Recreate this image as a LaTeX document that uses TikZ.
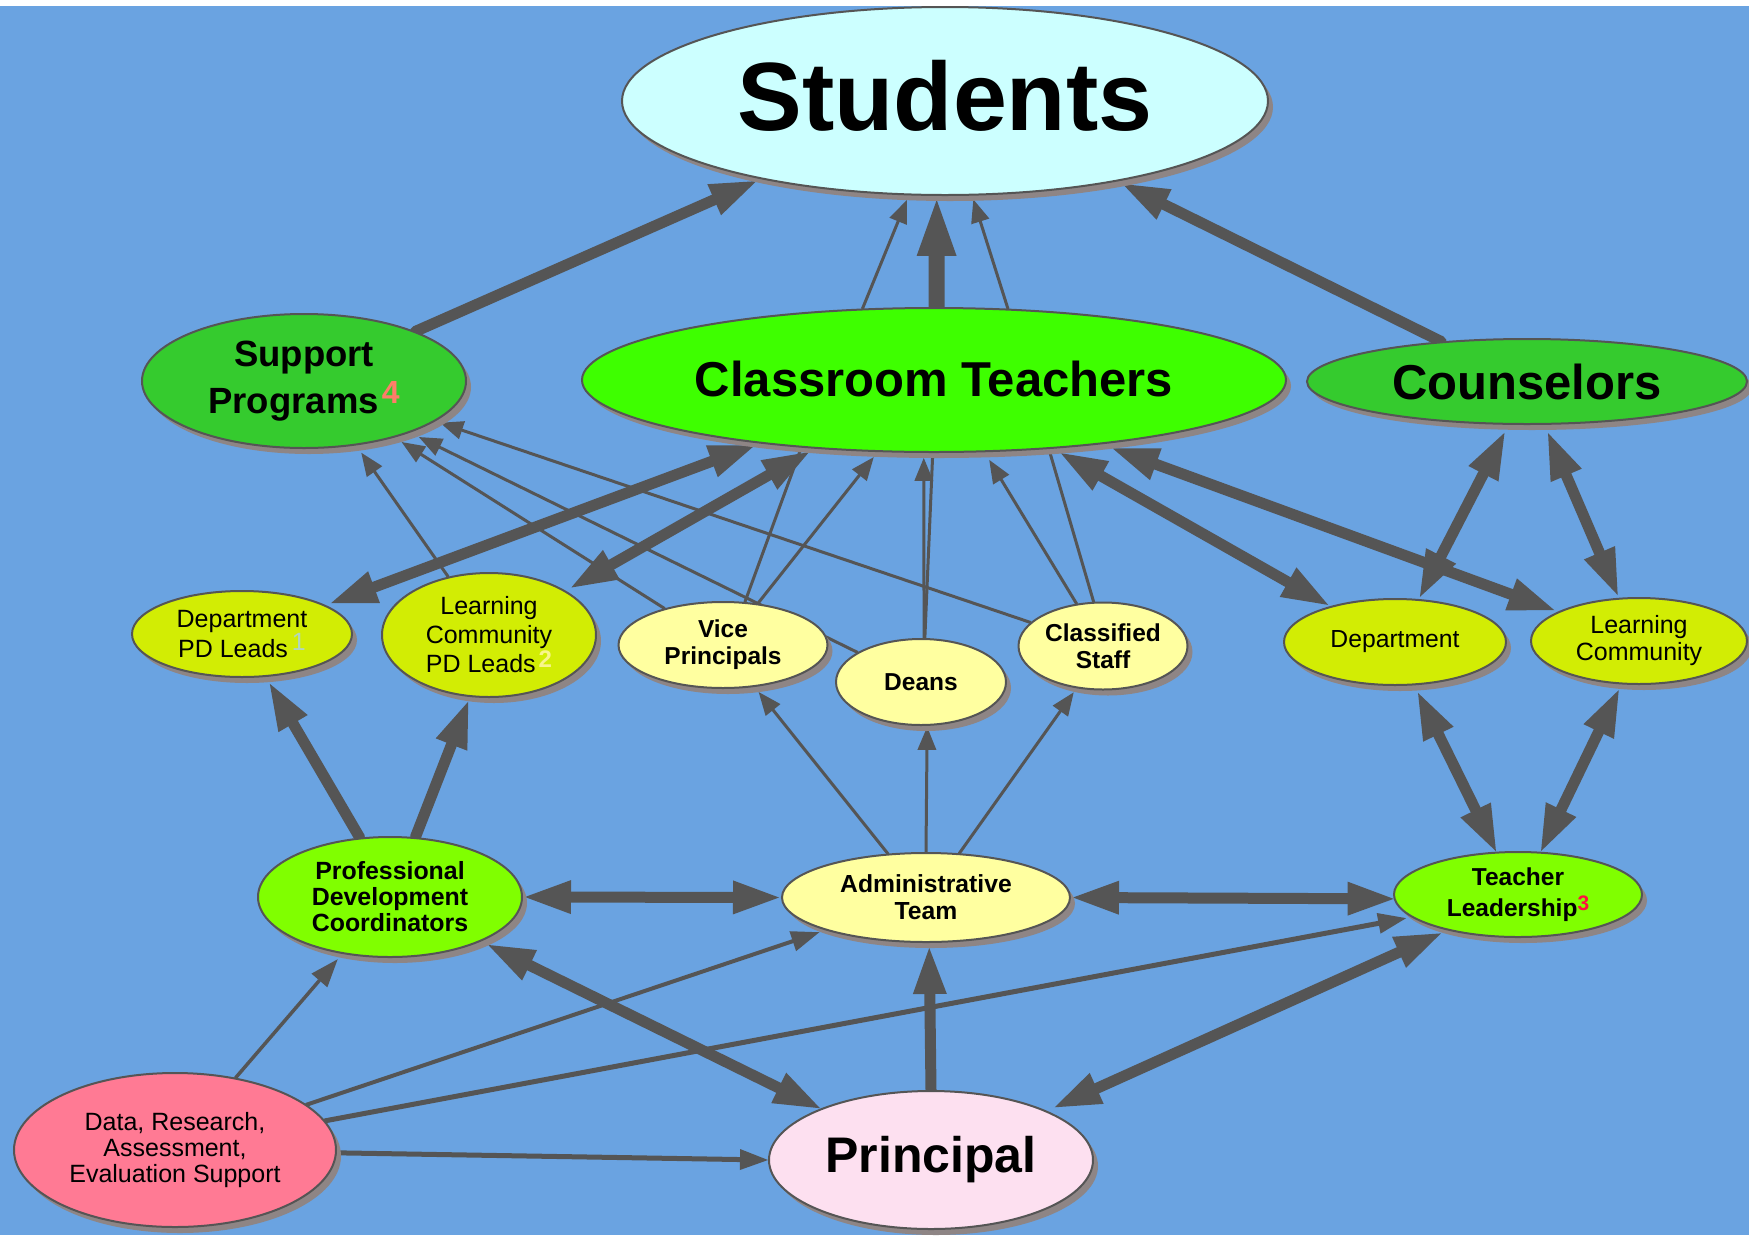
\documentclass[tikz,border=0pt]{standalone}
\usepackage{fontspec}
\setmainfont{Liberation Sans}
\usetikzlibrary{shapes.geometric,arrows.meta,shadows}
\pgfdeclarelayer{bglayer}
\pgfsetlayers{bglayer,main}
\definecolor{bgblue}{RGB}{106,163,225}
\definecolor{ln}{RGB}{85,85,85}
\definecolor{shd}{RGB}{142,133,133}
\definecolor{cStu}{RGB}{204,255,255}
\definecolor{cCT}{RGB}{62,255,0}
\definecolor{cDark}{RGB}{53,203,46}
\definecolor{cYG}{RGB}{210,237,4}
\definecolor{cLY}{RGB}{255,255,160}
\definecolor{cLime}{RGB}{128,255,0}
\definecolor{cPri}{RGB}{253,224,240}
\definecolor{cData}{RGB}{255,122,148}
\definecolor{supfour}{RGB}{255,125,105}
\definecolor{supone}{RGB}{178,214,190}
\definecolor{suptwo}{RGB}{248,245,140}
\definecolor{supthree}{RGB}{255,16,64}
\newcommand{\myfs}[2]{\fontsize{#1pt}{#2pt}\selectfont}
\begin{document}
\begin{tikzpicture}[x=1pt,y=-1pt,
  bub/.style={ellipse, draw=ln, line width=2pt, inner sep=0pt, align=center, text=black,
    drop shadow={opacity=1, fill=shd, shadow xshift=5pt, shadow yshift=-6pt}},
  tar/.style={draw=ln, line width=3pt, line cap=round, -{Triangle[length=23pt,width=19pt,line width=0pt]}},
  tln/.style={draw=ln, line width=3pt, line cap=round},
  kar/.style={draw=ln, line width=11pt, line cap=round, -{Triangle[length=46pt,width=34pt,line width=0pt]}},
  kdb/.style={draw=ln, line width=11pt, line cap=round, {Triangle[length=46pt,width=34pt,line width=0pt]}-{Triangle[length=46pt,width=34pt,line width=0pt]}},
  kbig/.style={draw=ln, line width=16pt, line cap=round, -{Triangle[length=56pt,width=40pt,line width=0pt]}},
  dar/.style={draw=ln, line cap=round, -{Triangle[length=28pt,width=21pt,line width=0pt]}}
]
\useasboundingbox (0,0) rectangle (1749,1235);

% ---------- nodes ----------
\node[bub, fill=cStu, minimum width=646pt, minimum height=188pt, font=\myfs{97}{97}\bfseries] (Stu) at (945,101) {\raisebox{12pt}{Students}};
\node[bub, fill=cCT, minimum width=704pt, minimum height=144pt, font=\myfs{49}{49}\bfseries] (CT) at (934,380) {\raisebox{3pt}{Classroom Teachers}};
\node[bub, fill=cDark, minimum width=324pt, minimum height=134pt, font=\myfs{36.5}{47}\bfseries] (SP) at (304,381) {Support\\Programs\kern3pt\raisebox{10pt}{\myfs{32}{32}\color{supfour}4}};
\node[bub, fill=cDark, minimum width=440pt, minimum height=85pt, font=\myfs{49}{49}\bfseries] (CO) at (1527,381.5) {Counselors};
\node[bub, fill=cYG, minimum width=220pt, minimum height=86pt, font=\myfs{25}{30}] (DPD) at (242,634) {Department\\PD Leads\kern4pt\raisebox{7pt}{\myfs{25}{25}\color{supone}1}};
\node[bub, fill=cYG, minimum width=214pt, minimum height=124pt, font=\myfs{25}{29}] (LCPD) at (489,635) {Learning\\Community\\PD Leads\kern3pt\raisebox{5pt}{\myfs{24}{24}\bfseries\color{suptwo}2}};
\node[bub, fill=cLY, minimum width=209pt, minimum height=86pt, font=\myfs{24.5}{27}\bfseries] (VP) at (723,645) {Vice\\Principals};
\node[bub, fill=cLY, minimum width=170pt, minimum height=86pt, font=\myfs{24.5}{27}\bfseries] (DE) at (921,682) {Deans};
\node[bub, fill=cLY, minimum width=169pt, minimum height=87pt, font=\myfs{24.5}{27}\bfseries] (CS) at (1103,646) {Classified\\Staff};
\node[bub, fill=cYG, minimum width=222pt, minimum height=86pt, font=\myfs{24.7}{27}] (DEP) at (1395,642) {Department};
\node[bub, fill=cYG, minimum width=216pt, minimum height=86pt, font=\myfs{25}{27}] (LC) at (1639,641) {Learning\\Community};
\node[bub, fill=cLime, minimum width=248pt, minimum height=85pt, font=\myfs{24.5}{31}\bfseries] (TL) at (1518,894.5) {Teacher\\Leadership\raisebox{6pt}{\myfs{21}{21}\color{supthree}3}};
\node[bub, fill=cLime, minimum width=264pt, minimum height=120pt, font=\myfs{24.9}{26}\bfseries] (PDC) at (390,897) {Professional\\Development\\Coordinators};
\node[bub, fill=cLY, minimum width=288pt, minimum height=89pt, font=\myfs{24.7}{27}\bfseries] (AT) at (926,897.5) {Administrative\\Team};
\node[bub, fill=cPri, minimum width=324pt, minimum height=138pt, font=\myfs{50}{50}\bfseries] (PR) at (931,1160) {Principal};
\node[bub, fill=cData, minimum width=322pt, minimum height=154pt, font=\myfs{25}{26}] (DA) at (175,1150) {Data, Research,\\Assessment,\\Evaluation Support};

% ---------- background and connectors ----------
\begin{pgfonlayer}{bglayer}
\fill[bgblue] (0,0) rectangle (1749,1235);
\fill[white] (0,0) rectangle (1749,6);

% to Students
\draw[kar, shorten >=5pt] (SP.24) -- (Stu.203);
\draw[kbig, shorten >=4pt] (CT.88) -- (Stu.265);
\draw[tar, shorten >=5pt] (CT.135) -- (Stu.249);
\draw[tar, shorten >=4pt] (CT.44) -- (Stu.286);
\draw[kar, shorten >=6pt] (CO.155) -- (Stu.335);

% Classroom Teachers and the row below
\draw[kdb, shorten <=5.5pt, shorten >=5pt] (DPD.19) -- (CT.200);
\draw[kdb, shorten <=6.5pt, shorten >=7pt] (LCPD.30) -- (CT.210);
\draw[tar, shorten >=6.5pt] (VP.50) -- (CT.232);
\draw[tln] (VP.63) -- (CT.207);
\draw[tar, shorten >=5pt] (DE.86) -- (CT.262);
\draw[tln] (CT.269) -- (DE.85);
\draw[tar, shorten >=9pt] (CS.122) -- (CT.305);
\draw[tln] (CT.329) -- (CS.102);

% to Support Programs
\draw[tar, shorten >=9pt] (LCPD.125) -- (SP.309);
\draw[tar, shorten >=8.5pt] (VP.148) -- (SP.328);
\draw[tar, shorten >=10pt] (DE.155) -- (SP.334);
\draw[tar, shorten >=5pt] (CS.162) -- (SP.343);

% right side
\draw[kdb, shorten <=9pt, shorten >=2.5pt] (CT.330) -- (DEP.151);
\draw[kdb, shorten <=12pt, shorten >=4pt] (CT.339) -- (LC.160);
\draw[kdb, shorten <=9pt, shorten >=2.5pt] (CO.247) -- (DEP.61);
\draw[kdb, shorten <=9pt, shorten >=3pt] (CO.292) -- (LC.115);
\draw[kdb, shorten <=8.5pt, shorten >=0.5pt] (DEP.294) -- (TL.117);
\draw[kdb, shorten <=6.3pt, shorten >=0.8pt] (LC.248) -- (TL.62);

% Professional Development Coordinators
\draw[kar, shorten >=8pt] (PDC.117) -- (DPD.299);
\draw[kar, shorten >=5pt] (PDC.67) -- (LCPD.253);
\draw[kdb, shorten <=2pt, shorten >=2pt] (PDC.0) -- (AT.180);
\draw[kdb, shorten <=2pt] (AT.0) -- (TL.182);

% Administrative Team
\draw[tar, shorten >=6.5pt] (AT.131) -- (VP.307);
\draw[tar, shorten >=1pt] (AT.90) -- (DE.278);
\draw[tar, shorten >=5pt] (AT.53) -- (CS.238);

% Principal
\draw[kdb, shorten <=8pt, shorten >=0.7pt] (PDC.334) -- (PR.155);
\draw[kar, shorten >=5pt] (PR.90) -- (AT.274);
\draw[kdb, shorten <=8.6pt, shorten >=7.2pt] (PR.23) -- (TL.207);

% Data support
\draw[dar, line width=3.5pt, shorten >=7pt] (DA.50) -- (PDC.230);
\draw[dar, line width=4pt, shorten >=6.3pt] (DA.19) -- (AT.198);
\draw[dar, line width=5pt, shorten >=5.3pt] (DA.11) -- (TL.192);
\draw[dar, line width=5pt] (DA.359) -- (PR.180);
\end{pgfonlayer}
\end{tikzpicture}
\end{document}
